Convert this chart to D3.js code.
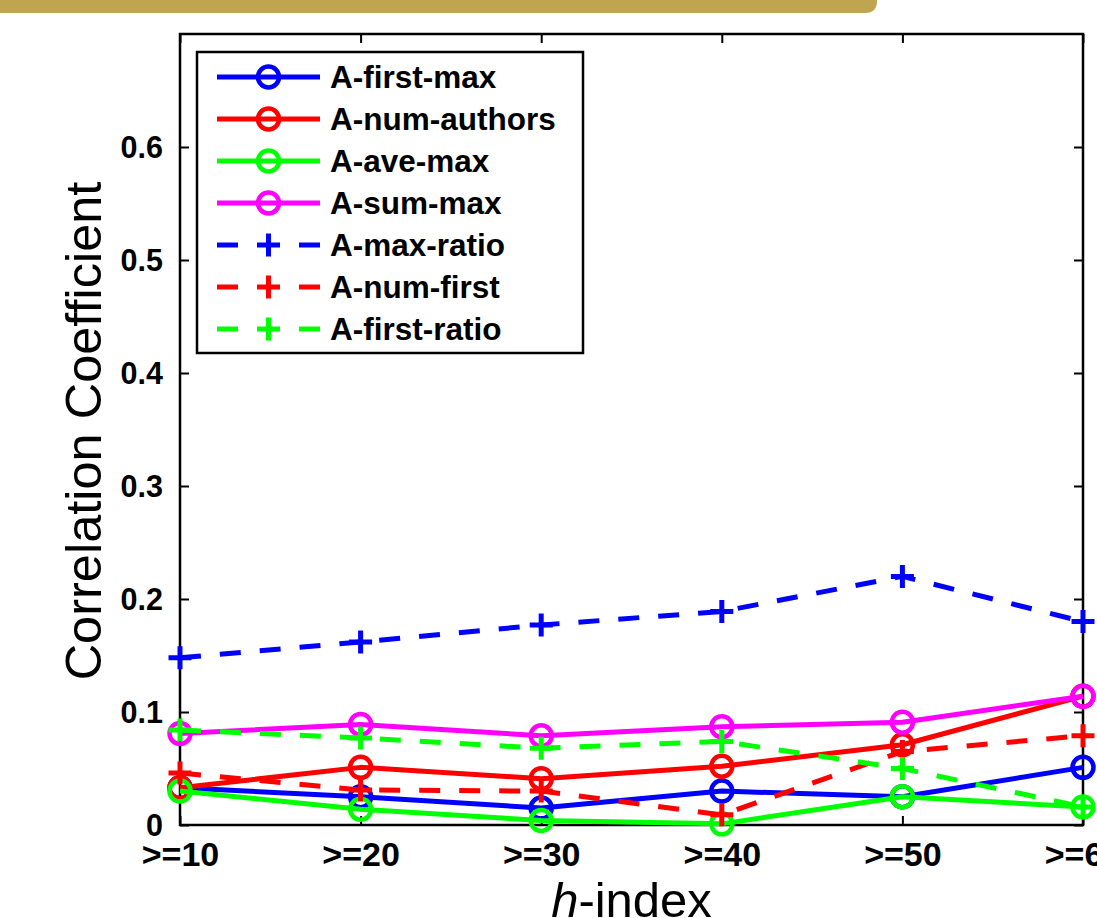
<!DOCTYPE html>
<html>
<head>
<meta charset="utf-8">
<script src="https://cdn.jsdelivr.net/npm/d3@7"></script>
<style>
  html, body { margin: 0; padding: 0; background: #fff; overflow: hidden; }
  svg { display: block; }
  text { font-family: "Liberation Sans", Arial, Helvetica, sans-serif; fill: #000; }
</style>
</head>
<body>
<svg id="chart" width="1097" height="918"></svg>
<script>
// h-index buckets on the x axis
const categories = [">=10", ">=20", ">=30", ">=40", ">=50", ">=60"];

// correlation coefficients per feature
const firstMax   = [0.033, 0.025, 0.015, 0.030, 0.025, 0.051];
const numAuthors = [0.033, 0.051, 0.041, 0.052, 0.071, 0.114];
const aveMax     = [0.030, 0.014, 0.004, 0.001, 0.025, 0.016];
const sumMax     = [0.081, 0.089, 0.079, 0.087, 0.091, 0.114];
const maxRatio   = [0.148, 0.162, 0.177, 0.189, 0.220, 0.180];
const numFirst   = [0.046, 0.031, 0.030, 0.009, 0.065, 0.079];
const firstRatio = [0.084, 0.077, 0.068, 0.074, 0.050, 0.016];

const seriesNames = ["A-first-max", "A-num-authors", "A-ave-max", "A-sum-max",
                     "A-max-ratio", "A-num-first", "A-first-ratio"];
const yTicks = [0, 0.1, 0.2, 0.3, 0.4, 0.5, 0.6];

const series = [
  { name: seriesNames[0], values: firstMax,   color: "#0000ff", dashed: false, marker: "circle" },
  { name: seriesNames[1], values: numAuthors, color: "#ff0000", dashed: false, marker: "circle" },
  { name: seriesNames[2], values: aveMax,     color: "#00ff00", dashed: false, marker: "circle" },
  { name: seriesNames[3], values: sumMax,     color: "#ff00ff", dashed: false, marker: "circle" },
  { name: seriesNames[4], values: maxRatio,   color: "#0000ff", dashed: true,  marker: "plus" },
  { name: seriesNames[5], values: numFirst,   color: "#ff0000", dashed: true,  marker: "plus" },
  { name: seriesNames[6], values: firstRatio, color: "#00ff00", dashed: true,  marker: "plus" }
];

const svg = d3.select("#chart");
const plotLeft = 180, plotRight = 1083, plotTop = 34, plotBottom = 825;

// decorative banner strip along the top edge
const bw = 877, bh = 13, br = 12;
svg.append("path")
  .attr("d", `M0,0 H${bw} V${bh - br} Q${bw},${bh} ${bw - br},${bh} H0 Z`)
  .attr("fill", "#bfa550");

const x = d3.scalePoint().domain(categories).range([plotLeft, plotRight]).padding(0);
const y = d3.scaleLinear().domain([0, 0.7]).range([plotBottom, plotTop]);

const font = "'Liberation Sans', Arial, Helvetica, sans-serif";

// axes (ticks pointing inward, box on all four sides)
const tickLen = 9;
const gBottom = svg.append("g").attr("transform", `translate(0,${plotBottom})`)
  .call(d3.axisBottom(x).tickSizeInner(-tickLen).tickSizeOuter(0));
gBottom.selectAll("text").attr("font-size", 34).attr("font-weight", "bold")
  .attr("font-family", font).attr("fill", "#000").attr("y", 41).attr("dy", 0);
const gTop = svg.append("g").attr("transform", `translate(0,${plotTop})`)
  .call(d3.axisTop(x).tickSizeInner(-tickLen).tickSizeOuter(0).tickFormat(""));
const gLeft = svg.append("g").attr("transform", `translate(${plotLeft},0)`)
  .call(d3.axisLeft(y).tickValues(yTicks).tickFormat(d3.format("~g"))
    .tickSizeInner(-tickLen).tickSizeOuter(0));
gLeft.selectAll("text").attr("font-size", 30.5).attr("font-weight", "bold")
  .attr("font-family", font).attr("fill", "#000").attr("x", -17).attr("dy", "0.36em");
const gRight = svg.append("g").attr("transform", `translate(${plotRight},0)`)
  .call(d3.axisRight(y).tickValues(yTicks).tickFormat("")
    .tickSizeInner(-tickLen).tickSizeOuter(0));

[gBottom, gTop, gLeft, gRight].forEach(g => {
  g.select(".domain").remove();
  g.selectAll("line").attr("stroke", "#000").attr("stroke-width", 2);
});
svg.append("rect")
  .attr("x", plotLeft).attr("y", plotTop)
  .attr("width", plotRight - plotLeft).attr("height", plotBottom - plotTop)
  .attr("fill", "none").attr("stroke", "#000").attr("stroke-width", 2.5);

// axis titles
svg.append("text")
  .attr("transform", `translate(101,431) rotate(-90)`)
  .attr("text-anchor", "middle")
  .attr("font-size", 50.5)
  .text("Correlation Coefficient");

const xt = svg.append("text")
  .attr("x", (plotLeft + plotRight) / 2).attr("y", 917)
  .attr("text-anchor", "middle")
  .attr("font-size", 49);
xt.append("tspan").attr("font-style", "italic").text("h");
xt.append("tspan").text("-index");

// marker drawing helper
function drawMarker(g, type, cx, cy, color) {
  if (type === "circle") {
    g.append("circle").attr("cx", cx).attr("cy", cy).attr("r", 10.5)
      .attr("fill", "none").attr("stroke", color).attr("stroke-width", 4.5);
  } else {
    const s = 11.5;
    g.append("path")
      .attr("d", `M${cx - s},${cy} H${cx + s} M${cx},${cy - s} V${cy + s}`)
      .attr("stroke", color).attr("stroke-width", 5).attr("fill", "none");
  }
}

const line = d3.line().x((d, i) => x(categories[i])).y(d => y(d));

// data series, drawn in order so later ones sit on top
series.forEach(s => {
  const g = svg.append("g");
  g.append("path")
    .attr("d", line(s.values))
    .attr("fill", "none")
    .attr("stroke", s.color)
    .attr("stroke-width", 5)
    .attr("stroke-linejoin", "round")
    .attr("stroke-dasharray", s.dashed ? "21,19" : null);
  s.values.forEach((v, i) => drawMarker(g, s.marker, x(categories[i]), y(v), s.color));
});

// legend
const lg = svg.append("g");
lg.append("rect")
  .attr("x", 197).attr("y", 52).attr("width", 386).attr("height", 301)
  .attr("fill", "#fff").attr("stroke", "#000").attr("stroke-width", 2.5);
series.forEach((s, i) => {
  const cy = 77 + i * 42;
  const row = lg.append("g");
  if (s.dashed) {
    row.append("line").attr("x1", 217).attr("x2", 238).attr("y1", cy).attr("y2", cy)
      .attr("stroke", s.color).attr("stroke-width", 5);
    row.append("line").attr("x1", 299).attr("x2", 320).attr("y1", cy).attr("y2", cy)
      .attr("stroke", s.color).attr("stroke-width", 5);
  } else {
    row.append("line").attr("x1", 217).attr("x2", 320).attr("y1", cy).attr("y2", cy)
      .attr("stroke", s.color).attr("stroke-width", 5);
  }
  drawMarker(row, s.marker, 268.5, cy, s.color);
  row.append("text").attr("x", 330).attr("y", cy + 11)
    .attr("font-size", 31.5).attr("font-weight", "bold")
    .text(s.name);
});
</script>
</body>
</html>
